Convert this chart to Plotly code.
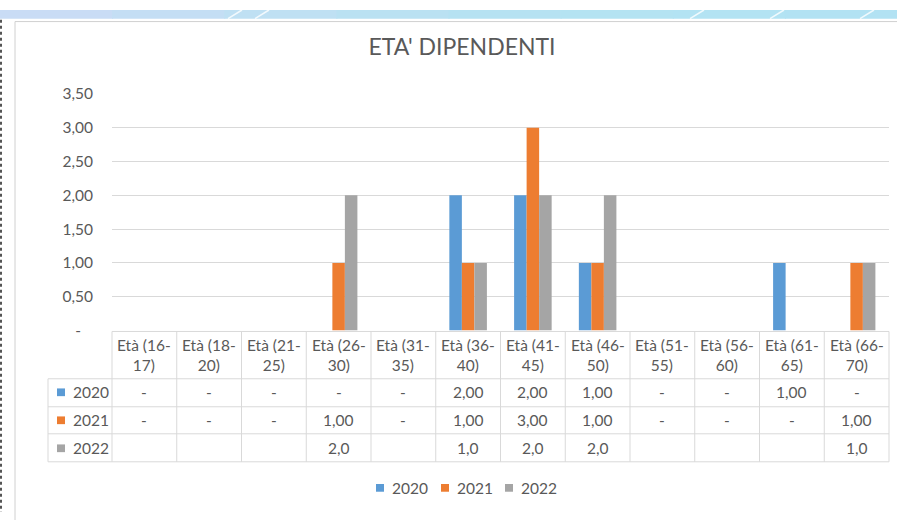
import plotly.graph_objects as go

# ---------------- data ----------------
categories = ["Età (16-17)", "Età (18-20)", "Età (21-25)", "Età (26-30)", "Età (31-35)",
              "Età (36-40)", "Età (41-45)", "Età (46-50)", "Età (51-55)", "Età (56-60)",
              "Età (61-65)", "Età (66-70)"]
series_names = ["2020", "2021", "2022"]
values_2020 = [0, 0, 0, 0, 0, 2, 2, 1, 0, 0, 1, 0]
values_2021 = [0, 0, 0, 1, 0, 1, 3, 1, 0, 0, 0, 1]
values_2022 = [None, None, None, 2, None, 1, 2, 2, None, None, None, 1]
colors = ["#5B9BD5", "#ED7D31", "#A5A5A5"]
decimals = [2, 2, 1]
y_tickvals = [0, 0.5, 1, 1.5, 2, 2.5, 3, 3.5]
y_ticktext = ["-\u00a0\u00a0\u00a0", "0,50", "1,00", "1,50", "2,00", "2,50", "3,00", "3,50"]
title_text = "ETA' DIPENDENTI"

series_values = [values_2020, values_2021, values_2022]

W, H = 897, 520
FONT = "Lato"
TXT = "#595959"
GRID = "#D9D9D9"
FS = 15.5

def px(x):
    return x / W

def py(y):
    return 1 - y / H

# plot area in pixels
PL, PR, PT, PB = 112, 889, 87, 332

fig = go.Figure()
for name, vals, col in zip(series_names, series_values, colors):
    fig.add_trace(go.Bar(x=categories, y=vals, name=name, marker=dict(color=col, line=dict(width=0))))

shapes = []
# top decorative gradient strip
strip_cols = ["#C9DCF5", "#C4DEF4", "#BFE0F3", "#BAE1F2", "#B6E2F2", "#B4E3F2", "#B3E3F3", "#B2E2F3"]
n = len(strip_cols)
for i, c in enumerate(strip_cols):
    shapes.append(dict(type="rect", xref="paper", yref="paper", x0=px(i * W / n), x1=px((i + 1) * W / n + 1),
                       y0=py(9), y1=py(0), fillcolor=c, line=dict(width=0), layer="below"))
for x0 in [228, 255, 690, 770, 860]:
    shapes.append(dict(type="line", xref="paper", yref="paper", x0=px(x0), y0=py(9), x1=px(x0 + 14), y1=py(0),
                       line=dict(color="rgba(255,255,255,0.8)", width=1.5)))
# left dotted border
shapes.append(dict(type="line", xref="paper", yref="paper", x0=px(1), x1=px(1), y0=py(10), y1=py(520),
                   line=dict(color="#555555", width=2, dash="dot")))
# chart frame
shapes.append(dict(type="rect", xref="paper", yref="paper", x0=px(15), x1=px(905), y0=py(530), y1=py(12),
                   fillcolor="white", line=dict(color="#D0D0D0", width=1), layer="below"))

# data table grid
ncat = len(categories)
cw = (PR - PL) / ncat
row_lines = [382, 411, 439, 468]
shapes.append(dict(type="line", xref="paper", yref="paper", x0=px(PL), x1=px(PR), y0=py(PB + 1), y1=py(PB + 1),
                   line=dict(color=GRID, width=1)))
for yl in row_lines:
    shapes.append(dict(type="line", xref="paper", yref="paper", x0=px(48), x1=px(PR), y0=py(yl), y1=py(yl),
                       line=dict(color=GRID, width=1)))
shapes.append(dict(type="line", xref="paper", yref="paper", x0=px(48), x1=px(48), y0=py(382), y1=py(468),
                   line=dict(color=GRID, width=1)))
for k in range(ncat + 1):
    xx = PL + k * cw
    shapes.append(dict(type="line", xref="paper", yref="paper", x0=px(xx), x1=px(xx), y0=py(PB + 1), y1=py(468),
                       line=dict(color=GRID, width=1)))

annotations = []
# header labels
for c in categories:
    head, tail = c.split("-", 1)
    annotations.append(dict(x=c, xref="x", y=py(357), yref="paper", text=head + "-<br>" + tail,
                            showarrow=False, font=dict(family=FONT, size=FS, color=TXT),
                            align="center", xanchor="center", yanchor="middle"))

row_centers = [396, 425, 454]
def fmt(v, d):
    if v is None:
        return ""
    if v == 0:
        return "-"
    return f"{v:.{d}f}".replace(".", ",")

for name, vals, col, d, yc in zip(series_names, series_values, colors, decimals, row_centers):
    shapes.append(dict(type="rect", xref="paper", yref="paper", x0=px(57), x1=px(65), y0=py(yc + 4), y1=py(yc - 4),
                       fillcolor=col, line=dict(width=0)))
    annotations.append(dict(x=px(71), xref="paper", y=py(yc), yref="paper", text=name, showarrow=False,
                            xanchor="left", yanchor="middle", font=dict(family=FONT, size=FS, color=TXT)))
    for c, v in zip(categories, vals):
        t = fmt(v, d)
        if t:
            annotations.append(dict(x=c, xref="x", y=py(yc), yref="paper", text=t, showarrow=False,
                                    xanchor="center", yanchor="middle", font=dict(family=FONT, size=FS, color=TXT)))

# bottom legend (Excel style: small square + label)
leg_x = [376, 441, 505]
for name, col, lx in zip(series_names, colors, leg_x):
    shapes.append(dict(type="rect", xref="paper", yref="paper", x0=px(lx), x1=px(lx + 8), y0=py(499), y1=py(491),
                       fillcolor=col, line=dict(width=0)))
    annotations.append(dict(x=px(lx + 14), xref="paper", y=py(495), yref="paper", text=name, showarrow=False,
                            xanchor="left", yanchor="middle", font=dict(family=FONT, size=FS, color=TXT)))

fig.update_layout(
    width=W, height=H,
    margin=dict(l=0, r=0, t=0, b=0),
    paper_bgcolor="white", plot_bgcolor="rgba(0,0,0,0)",
    barmode="group", bargap=0.42, bargroupgap=0,
    title=dict(text=title_text, x=px(462), xanchor="center", y=py(47), yanchor="middle",
               font=dict(family=FONT, size=23, color=TXT)),
    xaxis=dict(domain=[px(PL), px(PR)], showticklabels=False, showgrid=False, zeroline=False,
               showline=False, ticks=""),
    yaxis=dict(domain=[py(PB), py(PT)], range=[0, 3.5], tickvals=y_tickvals, ticktext=y_ticktext,
               showgrid=True, gridcolor=GRID, gridwidth=1, zeroline=False, showline=False, ticks="",
               ticklabelstandoff=18, tickfont=dict(family=FONT, size=FS, color=TXT)),
    showlegend=False,
    shapes=shapes, annotations=annotations,
)

post = """
document.documentElement.style.margin='0';document.documentElement.style.padding='0';
document.body.style.margin='0';document.body.style.padding='0';document.body.style.overflow='hidden';
"""
fig.write_html("out.html", config={"displayModeBar": False}, post_script=post)
